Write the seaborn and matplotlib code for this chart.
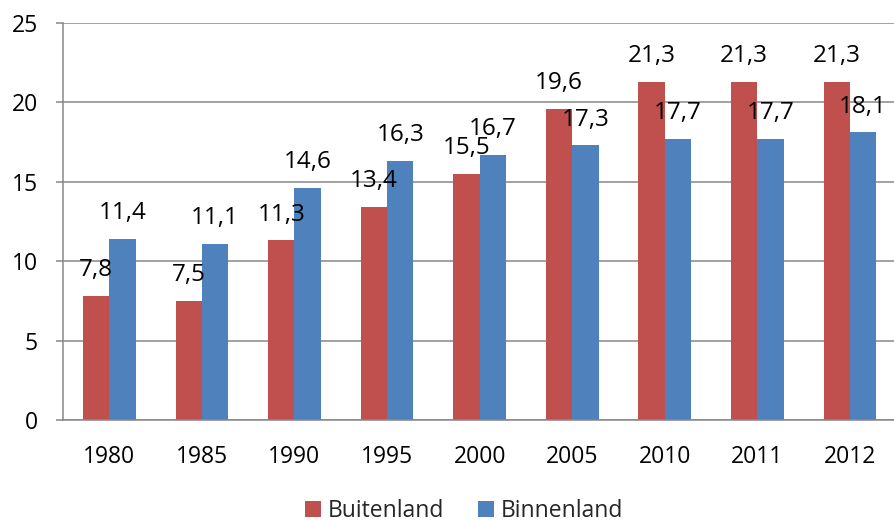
import matplotlib
matplotlib.use("Agg")
import matplotlib.pyplot as plt
import pandas as pd
import seaborn as sns

years = ["1980", "1985", "1990", "1995", "2000", "2005", "2010", "2011", "2012"]
buitenland = [7.8, 7.5, 11.3, 13.4, 15.5, 19.6, 21.3, 21.3, 21.3]
binnenland = [11.4, 11.1, 14.6, 16.3, 16.7, 17.3, 17.7, 17.7, 18.1]
series = ["Buitenland", "Binnenland"]
colors = ["#C0504D", "#4F81BD"]
y_ticks = [0, 5, 10, 15, 20, 25]

df = pd.DataFrame({
    "jaar": years * 2,
    "waarde": buitenland + binnenland,
    "reeks": [series[0]] * len(years) + [series[1]] * len(years),
})

sns.set_style("white")
plt.rcParams["font.family"] = ["Open Sans", "DejaVu Sans"]
grid_color = "#878787"

fig = plt.figure(figsize=(8.94, 5.21), dpi=100)
ax = fig.add_axes([0.0705, 0.194, 0.932, 0.762])

sns.barplot(data=df, x="jaar", y="waarde", hue="reeks", hue_order=series,
            palette=colors, width=0.57, linewidth=0, saturation=1, ax=ax)

ax.set_ylim(0, 25)
ax.set_xlim(-0.5, len(years) - 0.5)
ax.set_yticks(y_ticks)
ax.yaxis.grid(True, color=grid_color, linewidth=1.1)
ax.set_axisbelow(True)
ax.set_xlabel("")
ax.set_ylabel("")

for side in ["top", "right"]:
    ax.spines[side].set_visible(False)
for side in ["left", "bottom"]:
    ax.spines[side].set_color(grid_color)
    ax.spines[side].set_linewidth(1.1)

# category separators as minor ticks, labels on major ticks without marks
ax.set_xticks([i - 0.5 for i in range(len(years) + 1)], minor=True)
ax.tick_params(axis="x", which="minor", length=6, width=1.1, color=grid_color, direction="out")
ax.tick_params(axis="x", which="major", length=0, pad=18, labelsize=16.5, labelcolor="black")
ax.tick_params(axis="y", length=5, width=1.1, color=grid_color, pad=13, labelsize=16.5,
               labelcolor="black", left=True)

for container in ax.containers:
    for bar in container:
        h = bar.get_height()
        ax.annotate(f"{h:.1f}".replace(".", ","),
                    (bar.get_x() + bar.get_width() / 2, h),
                    xytext=(0, 18.5), textcoords="offset points",
                    ha="center", va="center", fontsize=17.5, color="black")

handles, labels = ax.get_legend_handles_labels()
ax.legend_.remove()
fig.legend(handles, labels, loc="center", bbox_to_anchor=(0.519, 0.02), ncol=2,
           frameon=False, fontsize=16.5, handlelength=0.7, handleheight=0.7,
           handletextpad=0.3, columnspacing=1.5)

fig.savefig("out.png", dpi=100)
